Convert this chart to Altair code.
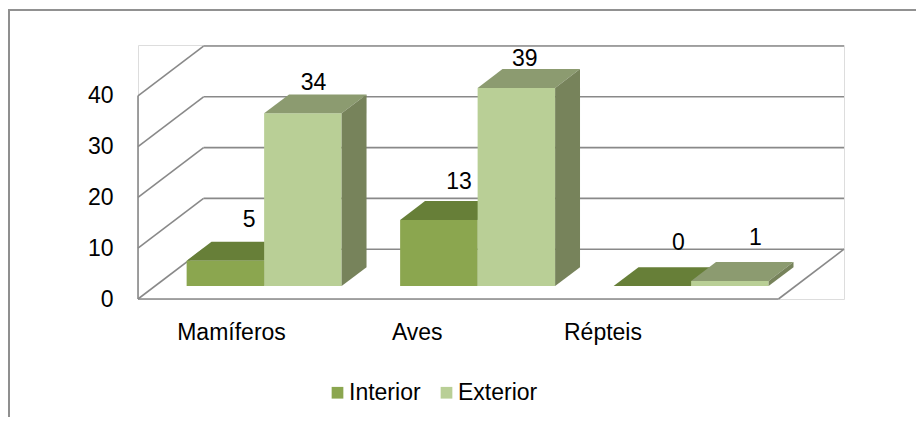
import altair as alt
import pandas as pd

# ---------------- data ----------------
categories = ["Mamíferos", "Aves", "Répteis"]
series = ["Interior", "Exterior"]
interior = [5, 13, 0]
exterior = [34, 39, 1]
y_ticks = [0, 10, 20, 30, 40]

# ---------------- layout ----------------
W, H = 706, 254
PL, PT, PR, PB = 130, 37, 72, 118
X_MAX = 3.307          # 3 category bands + box depth
Y_MAX = 50
DX = 0.307             # depth of the 3D box (x units)
DY = 9.8               # depth of the 3D box (value units)
F0, F1 = 0.26, 0.64    # depth slice occupied by the bars
BAR_OFF = 0.148
BW = 0.363
PXY = H / Y_MAX
PXX = W / X_MAX
FONT = "Liberation Sans"

front_c = {"Interior": "#8ba64f", "Exterior": "#b9cf96"}
top_c = {"Interior": "#677f38", "Exterior": "#8c9b70"}
side_c = {"Interior": "#5c7132", "Exterior": "#77835b"}

values = {"Interior": interior, "Exterior": exterior}

fronts, faces, labels = [], [], []
ddx = (F1 - F0) * DX
ddy = (F1 - F0) * DY
for i, cat in enumerate(categories):
    for s, name in enumerate(series):
        v = values[name][i]
        xl = i + BAR_OFF + F0 * DX + s * BW
        xr = xl + BW
        yb = F0 * DY
        yt = yb + v
        fronts.append(dict(series=name, x=xl, x2=xr, y=yb, y2=yt))
        fid = f"{cat}-{name}-top"
        for px, up, lo in [(xl, yt, yt), (xl + ddx, yt + ddy, yt),
                           (xr, yt + ddy, yt), (xr + ddx, yt + ddy, yt + ddy)]:
            faces.append(dict(series=name, face=fid, x=px, y=up, y2=lo, fill=top_c[name]))
        sid = f"{cat}-{name}-side"
        for px, up, lo in [(xr, yt, yb), (xr + ddx, yt + ddy, yb + ddy)]:
            faces.append(dict(series=name, face=sid, x=px, y=up, y2=lo, fill=side_c[name]))
        labels.append(dict(text=str(v),
                           x=(xl + xr) / 2 + (26 - 0.45 * v) / PXX,
                           y=yt + ddy + (17 - 0.36 * v) / PXY))

df_front = pd.DataFrame(fronts)
df_faces = pd.DataFrame(faces)
df_labels = pd.DataFrame(labels)

grid = []
for t in y_ticks:
    grid.append(dict(x=0, x2=DX, y=t, y2=t + DY))            # left wall
    grid.append(dict(x=DX, x2=3 + DX, y=t + DY, y2=t + DY))  # back wall
grid.append(dict(x=0, x2=0, y=0, y2=y_ticks[-1]))            # front edge
grid.append(dict(x=0, x2=3, y=0, y2=0))                      # floor front
grid.append(dict(x=3, x2=3 + DX, y=0, y2=DY))                # floor right
df_grid = pd.DataFrame(grid)

df_cats = pd.DataFrame(dict(text=categories,
                            x=[0.438 + 0.87 * i for i in range(len(categories))],
                            y=[-34 / PXY] * len(categories)))

xs = alt.Scale(domain=[0, X_MAX], nice=False, zero=False)
ys = alt.Scale(domain=[0, Y_MAX], nice=False, zero=False)
y_axis = alt.Axis(values=y_ticks, grid=False, ticks=False, domain=False,
                  labelPadding=25, labelFontSize=23, labelFont=FONT,
                  labelColor="black", title=None)

gridlayer = alt.Chart(df_grid).mark_rule(color="#898989", strokeWidth=1.6).encode(
    x=alt.X("x:Q", scale=xs, axis=None),
    x2="x2:Q",
    y=alt.Y("y:Q", scale=ys, axis=y_axis),
    y2="y2:Q",
)


def face_layer(name):
    return alt.Chart(df_faces[df_faces.series == name]).mark_area(orient="vertical", strokeWidth=0).encode(
        x=alt.X("x:Q", scale=xs, axis=None),
        y=alt.Y("y:Q", scale=ys, axis=y_axis, stack=None),
        y2="y2:Q",
        detail="face:N",
        fill=alt.Fill("fill:N", scale=None),
    )


front_layer = alt.Chart(df_front).mark_bar(strokeWidth=0).encode(
    x=alt.X("x:Q", scale=xs, axis=None),
    x2="x2:Q",
    y=alt.Y("y:Q", scale=ys, axis=y_axis, stack=None),
    y2="y2:Q",
    color=alt.Color("series:N",
                    scale=alt.Scale(domain=series, range=[front_c[s] for s in series]),
                    legend=alt.Legend(title=None, orient="none", legendX=188, legendY=336,
                                      direction="horizontal", symbolType="square",
                                      symbolSize=137, symbolStrokeWidth=0,
                                      labelFontSize=23, labelFont=FONT, labelColor="black",
                                      columnPadding=14, labelOffset=0, padding=0)),
)

label_layer = alt.Chart(df_labels).mark_text(fontSize=23, font=FONT, color="black",
                                              align="center", baseline="alphabetic").encode(
    x=alt.X("x:Q", scale=xs, axis=None),
    y=alt.Y("y:Q", scale=ys, axis=y_axis),
    text="text:N",
)

cat_layer = alt.Chart(df_cats).mark_text(fontSize=23, font=FONT, color="black",
                                          align="center", baseline="middle").encode(
    x=alt.X("x:Q", scale=xs, axis=None),
    y=alt.Y("y:Q", scale=ys, axis=y_axis),
    text="text:N",
)

border_top = alt.Chart(df_cats).mark_rule(color="#8f8f8f", strokeWidth=1.5).encode(
    x=alt.value(-PL), x2=alt.value(W + PR), y=alt.value(-PT + 2), y2=alt.value(-PT + 2))
border_left = alt.Chart(df_cats).mark_rule(color="#8f8f8f", strokeWidth=2).encode(
    x=alt.value(-PL + 1), x2=alt.value(-PL + 1), y=alt.value(-PT + 2), y2=alt.value(H + PB))

chart = alt.layer(
    gridlayer, border_top, border_left,
    face_layer("Interior"), front_layer, face_layer("Exterior"),
    label_layer, cat_layer,
).properties(
    width=W, height=H,
    padding={"left": PL, "top": PT, "right": PR, "bottom": PB},
    autosize=alt.AutoSizeParams(type="none"),
    background="white",
).configure_view(stroke=None).configure(font=FONT)

chart.save("out.html", embed_options={"renderer": "svg", "actions": False})
